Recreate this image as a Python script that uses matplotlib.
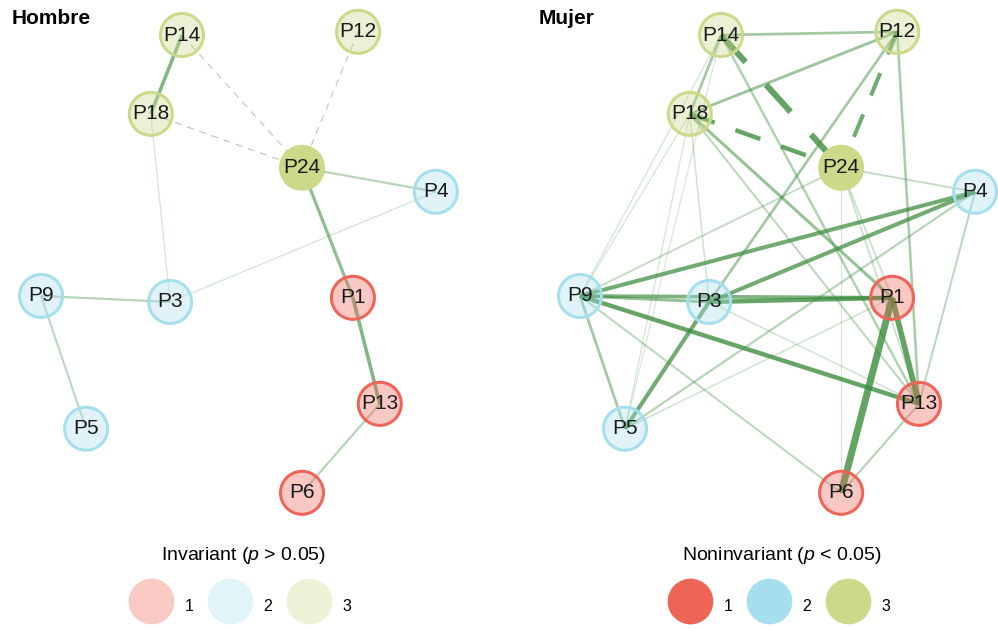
import matplotlib
matplotlib.use("Agg")
import matplotlib.pyplot as plt
from matplotlib.lines import Line2D
from matplotlib.colors import to_rgba

plt.rcParams['font.family'] = ['Liberation Sans', 'DejaVu Sans']
plt.rcParams['mathtext.fontset'] = 'custom'
plt.rcParams['mathtext.rm'] = 'Liberation Sans'
plt.rcParams['mathtext.it'] = 'Liberation Sans:italic'

# nodos y layout promedio (mismo layout en ambos grupos)
nodes = ["P14", "P12", "P18", "P24", "P4", "P9", "P3", "P1", "P13", "P5", "P6"]
layout_x = [35.7, 80.3, 27.8, 66.1, 100.0, 0.0, 32.7, 79.0, 85.8, 11.4, 66.1]
layout_y = [99.3, 100.0, 82.2, 70.5, 65.3, 42.7, 41.4, 42.3, 19.3, 13.9, 0.0]
groups = [3, 3, 3, 3, 2, 2, 2, 1, 1, 2, 1]
noninvariant = ["P24"]

group_colors = {1: "#EE6457", 2: "#A5DFEE", 3: "#CBD989"}
legend_labels = ["1", "2", "3"]

# aristas: (desde, hasta, peso, tipo)
hombre_edges = [
    ("P14", "P18", 0.15, "solid"),
    ("P24", "P1", 0.13, "solid"),
    ("P1", "P13", 0.15, "solid"),
    ("P24", "P4", 0.07, "solid"),
    ("P13", "P6", 0.07, "solid"),
    ("P9", "P3", 0.07, "solid"),
    ("P9", "P5", 0.06, "solid"),
    ("P18", "P3", 0.02, "solid"),
    ("P3", "P4", 0.02, "solid"),
    ("P14", "P24", 0.01, "dashed"),
    ("P18", "P24", 0.01, "dashed"),
    ("P12", "P24", 0.01, "dashed"),
]

mujer_edges = [
    ("P14", "P12", 0.10, "solid"),
    ("P18", "P12", 0.11, "solid"),
    ("P14", "P18", 0.10, "solid"),
    ("P14", "P13", 0.08, "solid"),
    ("P18", "P1", 0.12, "solid"),
    ("P18", "P13", 0.06, "solid"),
    ("P18", "P9", 0.02, "solid"),
    ("P18", "P3", 0.03, "solid"),
    ("P18", "P5", 0.02, "solid"),
    ("P14", "P9", 0.02, "solid"),
    ("P14", "P5", 0.015, "solid"),
    ("P12", "P3", 0.10, "solid"),
    ("P12", "P13", 0.09, "solid"),
    ("P24", "P4", 0.05, "solid"),
    ("P24", "P9", 0.05, "solid"),
    ("P24", "P13", 0.04, "solid"),
    ("P24", "P1", 0.04, "solid"),
    ("P24", "P6", 0.015, "solid"),
    ("P4", "P9", 0.18, "solid"),
    ("P4", "P3", 0.18, "solid"),
    ("P4", "P5", 0.07, "solid"),
    ("P4", "P13", 0.06, "solid"),
    ("P9", "P1", 0.16, "solid"),
    ("P9", "P3", 0.12, "solid"),
    ("P3", "P1", 0.20, "solid"),
    ("P9", "P13", 0.20, "solid"),
    ("P9", "P5", 0.10, "solid"),
    ("P9", "P6", 0.06, "solid"),
    ("P3", "P5", 0.18, "solid"),
    ("P3", "P13", 0.03, "solid"),
    ("P5", "P1", 0.03, "solid"),
    ("P1", "P6", 0.35, "solid"),
    ("P1", "P13", 0.27, "solid"),
    ("P13", "P6", 0.07, "solid"),
    ("P14", "P24", 0.30, "dashed"),
    ("P18", "P24", 0.20, "dashed"),
    ("P12", "P24", 0.18, "dashed"),
]

EDGE_GREEN = "#3c8c3c"
PX = 0.72  # puntos por pixel a 100 dpi


def edge_look(w):
    lw = (1.0 + w * 17) * PX
    alpha = min(0.8, 0.15 + w * 3.2)
    return lw, alpha


def draw_network(ax, edges, dash_color=None):
    pos = dict(zip(nodes, zip(layout_x, layout_y)))
    for a, b, w, kind in edges:
        (x0, y0), (x1, y1) = pos[a], pos[b]
        lw, alpha = edge_look(w)
        if kind == "dashed":
            color = EDGE_GREEN if dash_color is None else dash_color
            if dash_color is not None:
                alpha = 0.75
            ax.plot([x0, x1], [y0, y1], color=color, lw=lw, alpha=alpha,
                    dashes=(6, 5), dash_capstyle="butt", zorder=1)
        else:
            ax.plot([x0, x1], [y0, y1], color=EDGE_GREEN, lw=lw, alpha=alpha,
                    solid_capstyle="butt", zorder=1)

    faces, borders = [], []
    for n, g in zip(nodes, groups):
        c = group_colors[g]
        borders.append(to_rgba(c))
        faces.append(to_rgba(c, 1.0 if n in noninvariant else 0.35))
    ax.scatter(layout_x, layout_y, s=961, facecolors=faces, edgecolors=borders,
               linewidths=3 * PX, zorder=2)
    for n, x, y in zip(nodes, layout_x, layout_y):
        ax.text(x, y, n, ha="center", va="center", fontsize=15,
                color="#1a1a1a", zorder=3)
    ax.axis("off")


def light(c, a=0.35):
    r, g, b, _ = to_rgba(c)
    return (1 - a + a * r, 1 - a + a * g, 1 - a + a * b)


fig = plt.figure(figsize=(9.98, 6.3), dpi=100)
ax_h = fig.add_axes([0.0, 110 / 630, 499 / 998, 520 / 630])
ax_m = fig.add_axes([499 / 998, 110 / 630, 499 / 998, 520 / 630])

draw_network(ax_h, hombre_edges, dash_color="#b0b0b0")
draw_network(ax_m, mujer_edges)
ax_h.set_xlim(-10.4, 116.0)
ax_m.set_xlim(-20.5, 105.8)
for ax in (ax_h, ax_m):
    ax.set_ylim(-5.9, 106.9)

fig.text(0.0117, 0.962, "Hombre", fontsize=15, fontweight="bold", va="baseline")
fig.text(0.540, 0.962, "Mujer", fontsize=15, fontweight="bold", va="baseline")

legend_kw = dict(ncol=3, loc="upper center", frameon=False, fontsize=11.5,
                 title_fontsize=14, handlelength=2.0, handleheight=2.5,
                 handletextpad=1.125, columnspacing=1.27, labelspacing=1.56,
                 borderpad=0.4, bbox_transform=fig.transFigure)

inv_handles = [Line2D([], [], marker="o", linestyle="", markersize=32.9,
                      markerfacecolor=light(group_colors[k]), markeredgewidth=0)
               for k in (1, 2, 3)]
non_handles = [Line2D([], [], marker="o", linestyle="", markersize=32.9,
                      markerfacecolor=group_colors[k], markeredgewidth=0)
               for k in (1, 2, 3)]

ax_h.legend(inv_handles, legend_labels, title=r"Invariant ($p$ > 0.05)",
            bbox_to_anchor=(0.2435, 0.1577), **legend_kw)
ax_m.legend(non_handles, legend_labels, title=r"Noninvariant ($p$ < 0.05)",
            bbox_to_anchor=(0.7836, 0.1577), **legend_kw)

fig.savefig("out.png", dpi=100)
